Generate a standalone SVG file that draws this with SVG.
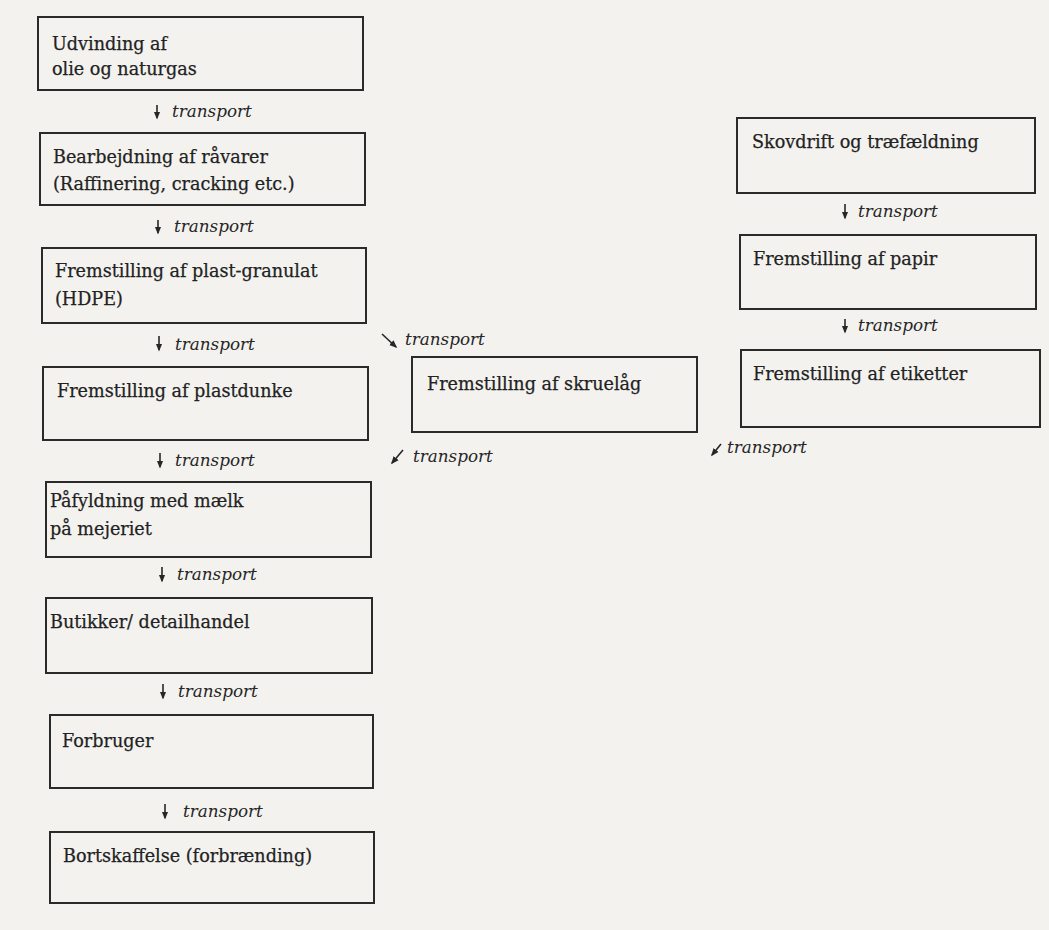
<svg xmlns="http://www.w3.org/2000/svg" width="1049" height="930" viewBox="0 0 1049 930">
<style>
.bg{fill:#f3f2ef}
.box{fill:none;stroke:#2a2a2a;stroke-width:2}
.t{font-family:"DejaVu Serif","Liberation Serif",serif;font-size:17.6px;fill:#222;stroke:#222;stroke-width:0.25}
.lbl{font-family:"DejaVu Serif","Liberation Serif",serif;font-style:italic;font-size:16.8px;fill:#262626}
.arr{stroke:#262626;stroke-width:1.6;fill:none;marker-end:url(#ah)}
</style>
<defs>
<marker id="ah" viewBox="0 0 10 10" refX="8" refY="5" markerWidth="5" markerHeight="5" orient="auto" markerUnits="strokeWidth">
<path d="M0,1 L10,5 L0,9 Z" fill="#262626"/>
</marker>
</defs>
<rect class="bg" x="0" y="0" width="1049" height="930"/>

<g id="n1"><rect class="box" x="38" y="17" width="325" height="73"/><text class="t" x="52" y="50">Udvinding af</text><text class="t" x="52" y="75">olie og naturgas</text></g>
<g id="n2"><rect class="box" x="40" y="133" width="325" height="72"/><text class="t" x="53" y="163">Bearbejdning af råvarer</text><text class="t" x="53" y="190">(Raffinering, cracking etc.)</text></g>
<g id="n3"><rect class="box" x="42" y="248" width="324" height="75"/><text class="t" x="55" y="277">Fremstilling af plast-granulat</text><text class="t" x="55" y="305">(HDPE)</text></g>
<g id="n4"><rect class="box" x="43" y="367" width="325" height="73"/><text class="t" x="57" y="397">Fremstilling af plastdunke</text></g>
<g id="n5"><rect class="box" x="46" y="482" width="325" height="75"/><text class="t" x="50" y="507">Påfyldning med mælk</text><text class="t" x="50" y="535">på mejeriet</text></g>
<g id="n6"><rect class="box" x="46" y="598" width="326" height="75"/><text class="t" x="50" y="628">Butikker/ detailhandel</text></g>
<g id="n7"><rect class="box" x="50" y="715" width="323" height="73"/><text class="t" x="62" y="747">Forbruger</text></g>
<g id="n8"><rect class="box" x="50" y="832" width="324" height="71"/><text class="t" x="63" y="862">Bortskaffelse (forbrænding)</text></g>
<g id="n9"><rect class="box" x="412" y="357" width="285" height="75"/><text class="t" x="427" y="390">Fremstilling af skruelåg</text></g>
<g id="n10"><rect class="box" x="737" y="118" width="298" height="75"/><text class="t" x="752" y="148">Skovdrift og træfældning</text></g>
<g id="n11"><rect class="box" x="740" y="235" width="296" height="74"/><text class="t" x="753" y="265">Fremstilling af papir</text></g>
<g id="n12"><rect class="box" x="741" y="350" width="299" height="77"/><text class="t" x="753" y="380">Fremstilling af etiketter</text></g>

<g id="connectors">
<line class="arr" x1="157" y1="105" x2="157" y2="118"/><text class="lbl" x="172" y="117">transport</text>
<line class="arr" x1="158" y1="220" x2="158" y2="233"/><text class="lbl" x="174" y="232">transport</text>
<line class="arr" x1="159" y1="336" x2="159" y2="350"/><text class="lbl" x="175" y="350">transport</text>
<line class="arr" x1="160" y1="453" x2="160" y2="467"/><text class="lbl" x="175" y="466">transport</text>
<line class="arr" x1="162" y1="567" x2="162" y2="581"/><text class="lbl" x="177" y="580">transport</text>
<line class="arr" x1="163" y1="684" x2="163" y2="698"/><text class="lbl" x="178" y="697">transport</text>
<line class="arr" x1="165" y1="804" x2="165" y2="818"/><text class="lbl" x="183" y="817">transport</text>
<line class="arr" x1="382" y1="334" x2="396" y2="347"/><text class="lbl" x="405" y="345">transport</text>
<line class="arr" x1="403" y1="450" x2="392" y2="463"/><text class="lbl" x="413" y="462">transport</text>
<line class="arr" x1="845" y1="204" x2="845" y2="218"/><text class="lbl" x="858" y="217">transport</text>
<line class="arr" x1="845" y1="319" x2="845" y2="332"/><text class="lbl" x="858" y="331">transport</text>
<line class="arr" x1="721" y1="444" x2="712" y2="455"/><text class="lbl" x="727" y="453">transport</text>
</g>
</svg>
